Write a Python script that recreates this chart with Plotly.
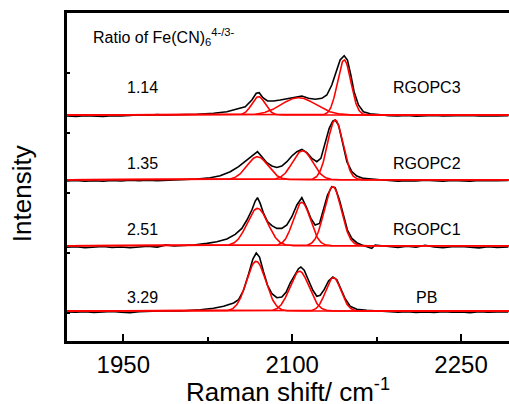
import numpy as np
import plotly.graph_objects as go

# ---------------- data ----------------
samples = ["PB", "RGOPC1", "RGOPC2", "RGOPC3"]
ratios = ["3.29", "2.51", "1.35", "1.14"]
offsets = [30.0, 95.3, 161.3, 226.0]          # vertical stacking offsets (intensity units)

# fitted Gaussian components: centre (cm-1), height, FWHM (cm-1)
fit_centres = {
    "PB":     [2068.0, 2106.5, 2136.6],
    "RGOPC1": [2069.2, 2108.6, 2136.1],
    "RGOPC2": [2069.2, 2109.2, 2138.2],
    "RGOPC3": [2070.1, 2105.6, 2146.2],
}
fit_heights = {
    "PB":     [49.7, 39.7, 33.4],
    "RGOPC1": [37.3, 43.3, 59.0],
    "RGOPC2": [23.0, 29.0, 59.7],
    "RGOPC3": [18.3, 17.3, 55.0],
}
fit_fwhm = {
    "PB":     [20.0, 20.0, 16.0],
    "RGOPC1": [21.6, 17.8, 17.8],
    "RGOPC2": [22.0, 21.0, 16.0],
    "RGOPC3": [14.0, 36.0, 14.0],
}

# measured spectra (black), baseline-subtracted intensities
base_left_x = [1900, 1908, 1916, 1924, 1932, 1940, 1948, 1956, 1964, 1972, 1980, 1988, 1995]
base_right_x = [2186, 2194, 2202, 2210, 2218, 2226, 2234, 2242, 2250, 2258, 2266, 2274, 2282, 2292]

pb_x = [2000.6, 2018.4, 2030.2, 2039.1, 2048.0, 2052.4, 2056.8, 2061.3, 2065.1, 2068.1, 2071.0,
        2074.6, 2078.1, 2082.0, 2086.4, 2090.8, 2094.7, 2098.2, 2101.8, 2105.6, 2107.7, 2110.7,
        2114.5, 2118.4, 2121.9, 2124.9, 2128.4, 2132.3, 2136.1, 2139.7, 2143.2, 2147.1, 2151.5,
        2157.4, 2166.3, 2178.1]
pb_y = [0, 1.3, 2.7, 4.7, 8.0, 11.3, 20.7, 37.0, 52.0, 58.0, 54.0,
        39.0, 25.7, 17.3, 13.3, 14.0, 19.0, 28.0, 34.7, 42.3, 44.0, 40.7,
        30.7, 20.7, 14.7, 15.7, 21.3, 30.0, 34.0, 31.3, 22.3, 12.3, 4.7,
        1.7, 0.7, 0]
pb_left = [-1.0, -1.3, -0.6, -1.5, -1.0, -0.4, -1.2, -1.6, -0.8, -0.3, -0.2, 0.2, 0.0]
pb_right = [-0.5, -1.2, -0.8, -1.5, -1.0, -1.4, -0.6, -1.3, -1.0, -1.6, -0.7, -1.2, -0.9, -1.0]

rg1_x = [2000.6, 2012.4, 2024.3, 2033.1, 2042.0, 2049.4, 2055.3, 2059.8, 2064.2, 2067.2, 2069.2,
         2071.6, 2074.6, 2078.1, 2082.0, 2086.4, 2090.8, 2095.3, 2099.7, 2104.2, 2108.6, 2112.5,
         2116.6, 2120.4, 2124.3, 2127.8, 2131.4, 2135.2, 2138.2, 2142.0, 2145.6, 2149.1, 2153.0,
         2157.4, 2161.9, 2166.3, 2170.7, 2173.7, 2178.1]
rg1_y = [0, 0.7, 2.3, 4.0, 6.7, 11.3, 17.3, 25.7, 35.7, 44.7, 48.0,
         42.3, 32.3, 24.0, 20.0, 17.3, 17.3, 20.7, 29.0, 40.7, 48.0, 39.0,
         27.3, 20.7, 22.3, 35.7, 50.7, 59.0, 58.0, 45.7, 29.0, 15.7, 7.3,
         3.0, 0.7, -1.0, -2.7, 0.7, 0]
rg1_left = [-1.5, -1.0, -2.0, -1.2, -0.8, -1.8, -1.3, -2.0, -1.0, -0.6, -1.4, 0.8, -0.3]
rg1_right = [-1.0, -1.8, -0.6, -1.5, 0.5, -1.2, -2.0, -1.0, -0.8, -1.6, -2.2, -1.0, -1.8, -1.2]

rg2_x = [2000.6, 2015.4, 2027.2, 2036.1, 2045.0, 2052.4, 2059.8, 2065.7, 2069.2, 2073.1, 2077.5,
         2082.0, 2086.4, 2090.8, 2095.3, 2099.7, 2104.2, 2108.6, 2113.0, 2117.5, 2121.9, 2125.5,
         2129.3, 2132.9, 2136.1, 2138.2, 2141.2, 2144.7, 2148.6, 2153.0, 2157.4, 2163.3, 2170.7,
         2178.1]
rg2_y = [0, 0.7, 2.0, 4.0, 8.0, 13.0, 19.7, 25.7, 28.0, 23.0, 17.0,
         13.7, 12.3, 13.7, 18.0, 23.7, 28.0, 30.3, 27.0, 21.3, 18.0, 21.3,
         36.3, 51.3, 58.7, 59.7, 54.7, 36.3, 18.0, 8.0, 3.7, 1.3, 0.3,
         0]
rg2_left = [-1.2, -0.7, -1.5, -1.0, -1.6, -0.8, -1.3, -0.5, -1.1, -0.6, -0.9, -0.3, 0.0]
rg2_right = [-0.8, -1.4, -0.9, -1.3, -0.6, -1.2, -1.5, -0.8, -1.0, -1.4, -0.7, -1.2, -1.0, -0.8]

rg3_x = [2000.6, 2015.4, 2030.2, 2042.0, 2050.9, 2058.3, 2064.2, 2068.1, 2070.7, 2074.0, 2078.1,
         2083.5, 2089.4, 2095.3, 2101.2, 2108.6, 2114.5, 2120.4, 2126.4, 2130.8, 2135.2, 2139.1,
         2142.6, 2146.2, 2149.1, 2152.1, 2155.0, 2158.9, 2163.3, 2169.3, 2178.1]
rg3_y = [0, 0.7, 1.7, 3.3, 6.0, 8.3, 15.0, 21.7, 22.3, 17.3, 14.0,
         14.0, 15.0, 16.0, 17.3, 19.0, 16.7, 15.7, 16.7, 20.0, 30.0, 43.3,
         55.0, 59.3, 55.0, 40.0, 23.3, 10.0, 3.3, 1.3, 0]
rg3_left = [-1.0, -1.4, -0.6, -1.2, -1.5, -0.8, -1.0, -0.4, 0.3, -0.2, 0.4, 0.0, 0.2]
rg3_right = [-0.6, -1.0, -0.5, -1.2, -0.8, -0.4, -1.0, -0.7, -1.1, -0.5, -0.9, -0.6, -1.0, -0.8]

spectra_x = {"PB": pb_x, "RGOPC1": rg1_x, "RGOPC2": rg2_x, "RGOPC3": rg3_x}
spectra_y = {"PB": pb_y, "RGOPC1": rg1_y, "RGOPC2": rg2_y, "RGOPC3": rg3_y}
spectra_left = {"PB": pb_left, "RGOPC1": rg1_left, "RGOPC2": rg2_left, "RGOPC3": rg3_left}
spectra_right = {"PB": pb_right, "RGOPC1": rg1_right, "RGOPC2": rg2_right, "RGOPC3": rg3_right}

x_ticks = [1950, 2100, 2250]

# ---------------- figure ----------------
FONT = "Liberation Sans, Arial, sans-serif"
grid = np.arange(1900.0, 2293.0, 0.5)
fig = go.Figure()

for s, off in zip(samples, offsets):
    xs = base_left_x + spectra_x[s] + base_right_x
    ys = spectra_left[s] + spectra_y[s] + spectra_right[s]
    fig.add_trace(go.Scatter(x=xs, y=[v + off for v in ys], mode="lines",
                             line=dict(color="black", width=1.6), showlegend=False,
                             hoverinfo="skip"))

for s, off in zip(samples, offsets):
    for c, h, w in zip(fit_centres[s], fit_heights[s], fit_fwhm[s]):
        comp = h * np.exp(-4 * np.log(2) * (grid - c) ** 2 / w ** 2) + off
        fig.add_trace(go.Scatter(x=grid, y=comp, mode="lines",
                                 line=dict(color="#ff0000", width=1.6), showlegend=False,
                                 hoverinfo="skip"))

ann = []
ann.append(dict(x=1921.0, y=304, xref="x", yref="y", xanchor="left", yanchor="middle",
                text="Ratio of Fe(CN)<sub>6</sub><sup>4-/3-</sup>", showarrow=False,
                font=dict(size=16, color="black", family=FONT)))
label_y = [44, 112, 178, 254]
for s, r, ly in zip(samples, ratios, label_y):
    ann.append(dict(x=1967.5, y=ly, xref="x", yref="y", text=r, showarrow=False,
                    font=dict(size=16, color="black", family=FONT)))
    ann.append(dict(x=2219.5, y=ly, xref="x", yref="y", text=s, showarrow=False,
                    font=dict(size=16, color="black", family=FONT)))
ann.append(dict(x=0.5, y=-0.094, xref="paper", yref="paper", xanchor="center", yanchor="top",
                text="Raman shift/ cm<sup>-1</sup>", showarrow=False,
                font=dict(size=26, color="black", family=FONT)))
ann.append(dict(x=-0.1, y=0.45, xref="paper", yref="paper", xanchor="center", yanchor="middle",
                text="Intensity", textangle=-90, showarrow=False,
                font=dict(size=26, color="black", family=FONT)))

fig.update_layout(
    width=509, height=404,
    margin=dict(l=67, r=0, t=13, b=63),
    paper_bgcolor="white", plot_bgcolor="white",
    annotations=ann,
    xaxis=dict(range=[1900, 2292.6], tickmode="array", tickvals=x_ticks,
               ticktext=[str(t) for t in x_ticks],
               ticks="inside", ticklen=7, tickwidth=2, tickcolor="black",
               minor=dict(ticks="inside", ticklen=4, tickwidth=2, tickcolor="black",
                          tickvals=[2025, 2175]),
               showline=True, linecolor="black", linewidth=3, mirror=True,
               showgrid=False, zeroline=False,
               tickfont=dict(size=24, color="black", family=FONT)),
    yaxis=dict(range=[0, 328], showticklabels=False,
               tickmode="linear", tick0=28, dtick=60,
               ticks="inside", ticklen=3, tickwidth=2, tickcolor="black",
               showline=True, linecolor="black", linewidth=3, mirror=False,
               showgrid=False, zeroline=False),
)

fig.write_html("out.html", config={"displayModeBar": False},
               post_script="document.body.style.margin='0px';document.body.style.padding='0px';")
